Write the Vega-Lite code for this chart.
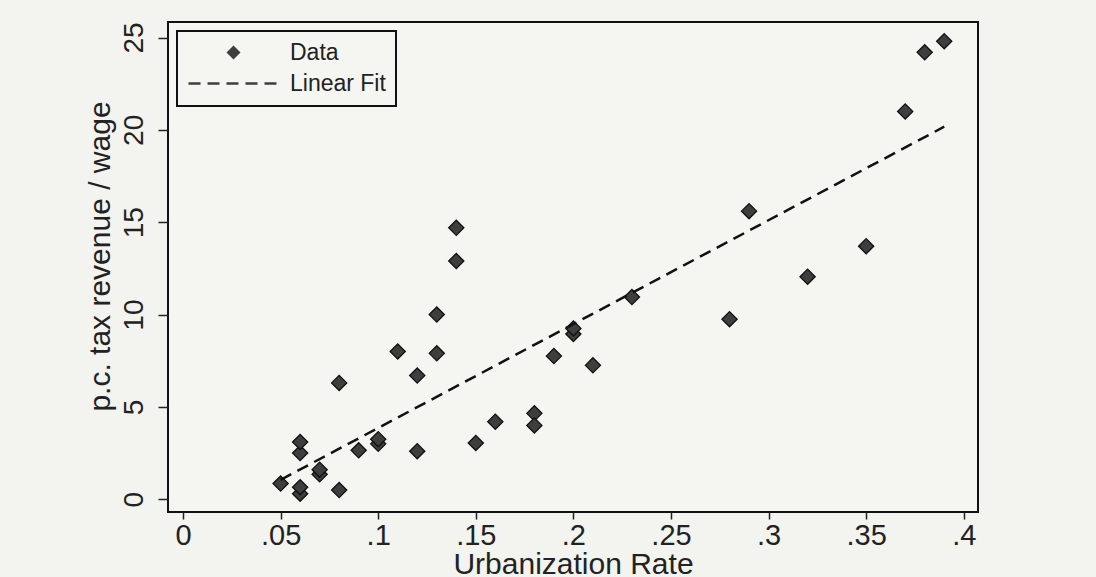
{
  "$schema": "https://vega.github.io/schema/vega-lite/v6.json",
  "autosize": "none",
  "width": 810,
  "height": 490,
  "padding": {"left": 168, "top": 22, "right": 118, "bottom": 65},
  "background": "#f3f3ef",
  "config": {
    "view": {"stroke": "#111111", "strokeWidth": 2, "fill": "#f5f5f1"},
    "font": "Liberation Sans",
    "axis": {
      "domain": false,
      "grid": false,
      "tickColor": "#222222",
      "tickWidth": 1.5,
      "labelColor": "#222222",
      "titleColor": "#222222",
      "labelFont": "Liberation Sans",
      "titleFont": "Liberation Sans",
      "titleFontWeight": "normal",
      "labelOverlap": false,
      "labelFlush": false,
      "labelBound": false
    },
    "legend": {"strokeWidth": 2}
  },
  "datasets": {
    "points": [
      {"u": 0.05, "t": 0.85},
      {"u": 0.06, "t": 0.3},
      {"u": 0.06, "t": 0.65},
      {"u": 0.06, "t": 2.5},
      {"u": 0.06, "t": 3.1},
      {"u": 0.07, "t": 1.35},
      {"u": 0.07, "t": 1.6},
      {"u": 0.08, "t": 0.5},
      {"u": 0.08, "t": 6.3},
      {"u": 0.09, "t": 2.65},
      {"u": 0.10, "t": 3.0},
      {"u": 0.10, "t": 3.25},
      {"u": 0.11, "t": 8.0},
      {"u": 0.12, "t": 6.7},
      {"u": 0.12, "t": 2.6},
      {"u": 0.13, "t": 10.0},
      {"u": 0.13, "t": 7.9},
      {"u": 0.14, "t": 12.9},
      {"u": 0.14, "t": 14.7},
      {"u": 0.15, "t": 3.05},
      {"u": 0.16, "t": 4.2},
      {"u": 0.18, "t": 4.65},
      {"u": 0.18, "t": 4.0},
      {"u": 0.19, "t": 7.75},
      {"u": 0.20, "t": 8.95},
      {"u": 0.20, "t": 9.25},
      {"u": 0.21, "t": 7.25},
      {"u": 0.23, "t": 10.95},
      {"u": 0.28, "t": 9.75},
      {"u": 0.29, "t": 15.6},
      {"u": 0.32, "t": 12.05},
      {"u": 0.35, "t": 13.7},
      {"u": 0.37, "t": 21.0},
      {"u": 0.38, "t": 24.2},
      {"u": 0.39, "t": 24.8}
    ],
    "fit": [
      {"u": 0.05, "t": 1.05},
      {"u": 0.39, "t": 20.17}
    ]
  },
  "encoding": {
    "x": {
      "field": "u",
      "type": "quantitative",
      "scale": {"domain": [-0.0077, 0.4073], "nice": false, "zero": false},
      "axis": {
        "title": "Urbanization Rate",
        "values": [0, 0.05, 0.1, 0.15, 0.2, 0.25, 0.3, 0.35, 0.4],
        "labelExpr": "datum.value === 0 ? '0' : slice(format(datum.value, '.2~f'), 1)",
        "labelFontSize": 29,
        "labelBaseline": "alphabetic",
        "labelPadding": 25,
        "tickSize": 7,
        "titleFontSize": 30,
        "titleBaseline": "alphabetic",
        "titleY": 61
      }
    },
    "y": {
      "field": "t",
      "type": "quantitative",
      "scale": {"domain": [-0.69, 25.84], "nice": false, "zero": false},
      "axis": {
        "title": "p.c. tax revenue / wage",
        "values": [0, 5, 10, 15, 20, 25],
        "labelAngle": -90,
        "labelAlign": "center",
        "labelBaseline": "alphabetic",
        "labelFontSize": 28,
        "labelPadding": 16,
        "tickSize": 10,
        "titleFontSize": 30,
        "titleAngle": -90,
        "titleBaseline": "alphabetic",
        "titleAlign": "center",
        "titleX": -59,
        "titleY": 234
      }
    }
  },
  "layer": [
    {
      "data": {"name": "points"},
      "mark": {"type": "point", "filled": true, "strokeWidth": 1.3, "size": 230, "opacity": 1},
      "encoding": {
        "fill": {"value": "#3e3e3e"},
        "stroke": {"value": "#111111"},
        "shape": {
          "datum": "Data",
          "scale": {
            "domain": ["Data", "Linear Fit"],
            "range": ["diamond", "M-6.43,-0.18H-4.71V0.18H-6.43Z M-3.71,-0.18H-2V0.18H-3.71Z M-1,-0.18H0.71V0.18H-1Z M1.71,-0.18H3.43V0.18H1.71Z M4.43,-0.18H6.14V0.18H4.43Z"]
          },
          "legend": {
            "title": null,
            "orient": "none",
            "legendX": 9,
            "legendY": 9,
            "padding": 10,
            "strokeColor": "#111111",
            "fillColor": "#f5f5f1",
            "symbolSize": 196,
            "symbolOffset": 35,
            "labelOffset": 45,
            "labelFontSize": 23,
            "labelFont": "Liberation Sans",
            "labelColor": "#222222",
            "rowPadding": 7,
            "symbolFillColor": "#2a2a2a",
            "symbolStrokeColor": "#111111",
            "symbolStrokeWidth": 1,
            "symbolOpacity": 1
          }
        }
      }
    },
    {
      "data": {"name": "fit"},
      "mark": {"type": "line", "color": "#111111", "strokeDash": [12, 7], "strokeWidth": 2.5},
      "encoding": {}
    }
  ]
}
